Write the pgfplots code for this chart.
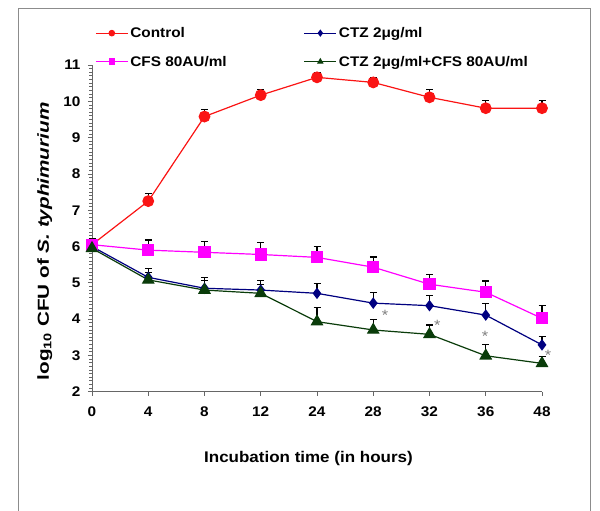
\documentclass[border=0pt]{standalone}
\usepackage{fontspec}
\setmainfont{Liberation Sans}[FakeStretch=1.1]
\newfontfamily\ylabfont{Liberation Sans}[FakeStretch=1.3]
\usepackage{pgfplots}
\pgfplotsset{compat=1.18}
\definecolor{cred}{RGB}{250,20,20}
\definecolor{cmag}{RGB}{255,0,255}
\definecolor{cnavy}{RGB}{0,0,128}
\definecolor{cgreen}{RGB}{10,60,10}

\pgfplotstableread{
x y e
0 6.05 0.15
1 7.25 0.20
2 9.58 0.20
3 10.17 0.15
4 10.66 0.12
5 10.52 0.12
6 10.11 0.22
7 9.81 0.22
8 9.81 0.22
}\control
\pgfplotstableread{
x y e
0 6.00 0.20
1 5.15 0.25
2 4.85 0.30
3 4.80 0.26
4 4.71 0.28
5 4.44 0.30
6 4.37 0.29
7 4.11 0.33
8 3.29 0.23
}\ctz
\pgfplotstableread{
x y e
0 6.05 0.18
1 5.90 0.28
2 5.84 0.30
3 5.78 0.34
4 5.70 0.30
5 5.43 0.28
6 4.96 0.27
7 4.74 0.31
8 4.02 0.35
}\cfs
\pgfplotstableread{
x y e
0 5.95 0.20
1 5.08 0.20
2 4.80 0.26
3 4.71 0.25
4 3.93 0.39
5 3.70 0.28
6 3.58 0.26
7 2.99 0.32
8 2.78 0.20
}\combo

\begin{document}
\begin{tikzpicture}
\path[use as bounding box] (0bp,0bp) rectangle (600bp,511bp);
\draw[black!45, line width=0.8bp] (18bp,0bp) -- (18bp,503bp) -- (590bp,503bp) -- (590bp,0bp);
\begin{axis}[
  at={(92bp,119.3bp)}, anchor=south west,
  scale only axis, width=450bp, height=326.7bp,
  xmin=0, xmax=8, ymin=2, ymax=11,
  axis x line=bottom, axis y line=left,
  axis line style={-, black!60, line width=0.8bp},
  xtick={0,...,8}, xticklabels={0,4,8,12,24,28,32,36,48},
  ytick={2,...,11}, minor y tick num=9,
  tick style={black!60, line width=0.8bp},
  tick align=outside,
  major tick length=4bp, minor tick length=2.5bp,
  /pgf/number format/assume math mode=true,
  ticklabel style={font=\bfseries\fontsize{14}{16}\selectfont},
  xticklabel style={yshift=-8bp},
  yticklabel style={xshift=-4bp},
  xlabel={Incubation time (in hours)},
  xlabel style={at={(axis description cs:0.481,-0.206)}, anchor=center, font=\bfseries\fontsize{15.5}{18}\selectfont},
  ylabel={log\textsubscript{10} CFU of \textit{S. typhimurium}},
  ylabel style={at={(axis description cs:-0.105,0.46)}, anchor=center, font=\ylabfont\bfseries\fontsize{16}{19}\selectfont},
  legend columns=2,
  legend cell align=left,
  legend style={draw=none, fill=none, at={(axis description cs:0.0067,1.122)}, anchor=north west,
    font=\bfseries\fontsize{14}{16}\selectfont, inner sep=0pt, row sep=13bp,
    /tikz/every even column/.append style={column sep=75bp}},
  legend image code/.code={\draw[#1, mark size=2.7bp, mark repeat=2, mark phase=2] plot coordinates {(0bp,0bp) (16bp,0bp) (32bp,0bp)};},
  clip=false,
]
\addplot[cred, line width=1.2bp, mark=*, mark size=5.3bp, mark options={fill=cred, draw=cred},
  error bars/.cd, y dir=plus, y explicit, error bar style={black, line width=1.2bp},
  error mark options={rotate=90, black, mark size=3.5bp, line width=1.2bp}]
  table[x=x, y=y, y error=e] {\control};
\addlegendentry{Control}
\addplot[cnavy, line width=1.2bp, mark=diamond*, mark size=4.8bp, mark options={fill=cnavy, draw=cnavy},
  error bars/.cd, y dir=plus, y explicit, error bar style={black, line width=1.2bp},
  error mark options={rotate=90, black, mark size=3.5bp, line width=1.2bp}]
  table[x=x, y=y, y error=e] {\ctz};
\addlegendentry{CTZ 2μg/ml}
\addplot[cmag, line width=1.2bp, mark=square*, mark size=5.5bp, mark options={fill=cmag, draw=cmag},
  error bars/.cd, y dir=plus, y explicit, error bar style={black, line width=1.2bp},
  error mark options={rotate=90, black, mark size=3.5bp, line width=1.2bp}]
  table[x=x, y=y, y error=e] {\cfs};
\addlegendentry{CFS 80AU/ml}
\addplot[cgreen, line width=1.2bp, mark=triangle*, mark size=6.3bp, mark options={fill=cgreen, draw=cgreen},
  error bars/.cd, y dir=plus, y explicit, error bar style={black, line width=1.2bp},
  error mark options={rotate=90, black, mark size=3.5bp, line width=1.2bp}]
  table[x=x, y=y, y error=e] {\combo};
\addlegendentry{CTZ 2μg/ml+CFS 80AU/ml}
\node[text=black!50, font=\fontsize{15}{15}\selectfont, yshift=-3.3bp] at (axis cs:5.21,4.19) {*};
\node[text=black!50, font=\fontsize{15}{15}\selectfont, yshift=-3.3bp] at (axis cs:6.14,3.91) {*};
\node[text=black!50, font=\fontsize{15}{15}\selectfont, yshift=-3.3bp] at (axis cs:6.99,3.61) {*};
\node[text=black!50, font=\fontsize{15}{15}\selectfont, yshift=-3.3bp] at (axis cs:8.11,3.10) {*};
\end{axis}
\end{tikzpicture}
\end{document}
